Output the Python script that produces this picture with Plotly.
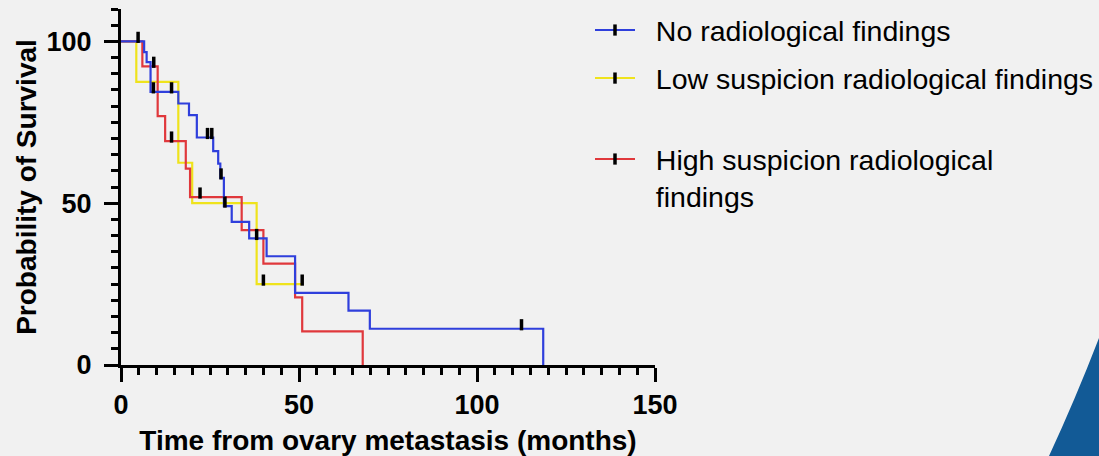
import plotly.graph_objects as go

# ---------------- data ----------------
# No radiological findings
time_no = [0, 6.5, 7.2, 8.3, 16.1, 19.1, 21.3, 25.9, 27.3, 27.9, 28.9, 31.1, 36.0, 40.9, 48.9, 63.9, 69.9, 118.6]
surv_no = [100, 96.7, 93.6, 84.4, 80.8, 77.2, 70.3, 66.1, 62.2, 57.8, 49.1, 44.2, 39.1, 33.6, 22.3, 16.8, 11.2, 0]
cens_time_no = [4.8, 9.1, 14.2, 24.3, 25.5, 28.1, 29.2, 38.1, 112.5]
cens_surv_no = [100, 84.4, 84.4, 70.3, 70.3, 57.8, 49.1, 39.1, 11.2]

# Low suspicion radiological findings
time_low = [0, 4.3, 16.1, 20.0, 38.1, 50.9]
surv_low = [100, 87.5, 62.5, 50.0, 25.0, 25.0]
cens_time_low = [40.0, 50.9]
cens_surv_low = [25.0, 25.0]

# High suspicion radiological findings
time_high = [0, 6.0, 10.3, 12.4, 18.2, 19.4, 33.9, 40.0, 48.9, 50.9, 67.9]
surv_high = [100, 92.3, 76.9, 69.2, 60.7, 51.9, 41.7, 31.3, 20.9, 10.4, 0]
cens_time_high = [9.2, 14.2, 22.2]
cens_surv_high = [92.3, 69.2, 51.9]

names = ["No radiological findings",
         "Low suspicion radiological findings",
         "High suspicion radiological<br>findings"]
colors = ["#2f3fdc", "#efe31c", "#e0383c"]

x_ticks = [0, 50, 100, 150]
y_ticks = [0, 50, 100]
x_range = [0, 150]
y_range = [0, 110]

# ---------------- figure ----------------
W, H = 1099, 456
L, R, T, B = 121, 444, 9, 91
plot_h = H - T - B
plot_w = W - L - R
lift = 4.0 * (y_range[1] - y_range[0]) / plot_h  # censor ticks sit on top of the line

BG = "#f1f1f1"
FONT = "Arial, Liberation Sans, Helvetica, sans-serif"
PAD = "\u00a0\u00a0"  # gap between legend symbol and text

fig = go.Figure()

# step curves (yellow, red, blue drawing order)
for t, s, c in [(time_low, surv_low, colors[1]),
                (time_high, surv_high, colors[2]),
                (time_no, surv_no, colors[0])]:
    fig.add_trace(go.Scatter(x=t, y=s, mode="lines",
                             line=dict(color=c, width=2.2, shape="hv"),
                             showlegend=False, hoverinfo="skip"))

# censor marks (also carry legend entries)
cens = [(cens_time_no, cens_surv_no, colors[0], names[0], "legend", "g1"),
        (cens_time_low, cens_surv_low, colors[1], names[1], "legend", "g2"),
        (cens_time_high, cens_surv_high, colors[2], names[2], "legend2", "g3")]
for ct, cs, c, nm, lg, grp in cens:
    xs, ys = [], []
    for a, b in zip(ct, cs):
        xs += [a, None]
        ys += [b + lift, None]
    label = "<br>".join(PAD + part for part in nm.split("<br>"))
    fig.add_trace(go.Scatter(x=xs, y=ys, mode="lines+markers", name=label,
                             legend=lg, legendgroup=grp,
                             line=dict(color=c, width=2),
                             marker=dict(symbol="line-ns", size=8,
                                         line=dict(color="black", width=3.5)),
                             connectgaps=False, hoverinfo="skip"))

axis_common = dict(showline=True, linecolor="black", linewidth=3,
                   ticks="outside", ticklen=14, tickwidth=3, tickcolor="black",
                   showgrid=False, zeroline=False,
                   tickfont=dict(family=FONT, size=27, color="black", weight="bold"),
                   minor=dict(dtick=5, ticks="outside", ticklen=7, tickwidth=3,
                              tickcolor="black", showgrid=False))

fig.update_xaxes(range=x_range, tickvals=x_ticks, ticklabelstandoff=0,
                 title=dict(text="Time from ovary metastasis (months)",
                            font=dict(family=FONT, size=28, color="black", weight="bold"),
                            standoff=12),
                 **axis_common)
fig.update_yaxes(range=y_range, tickvals=y_ticks, ticklabelstandoff=7,
                 title=dict(text="Probability of Survival",
                            font=dict(family=FONT, size=28, color="black", weight="bold"),
                            standoff=2),
                 **axis_common)

legend_common = dict(xref="container", yref="container", xanchor="left", yanchor="top",
                     bgcolor="rgba(0,0,0,0)", borderwidth=0, valign="top",
                     font=dict(family=FONT, size=28.5, color="black"),
                     itemwidth=40, tracegroupgap=8)

fig.update_layout(
    width=W, height=H,
    margin=dict(l=L, r=R, t=T, b=B, autoexpand=False),
    paper_bgcolor=BG, plot_bgcolor=BG,
    legend=dict(x=590 / W, y=1 - 5 / H, **legend_common),
    legend2=dict(x=590 / W, y=1 - 134 / H, **legend_common),
    shapes=[dict(type="path", xref="paper", yref="paper", layer="below",
                 path="M %f %f Q %f %f %f %f L %f %f Z" % (
                     (1099 - L) / plot_w, (H - B - 338) / plot_h,
                     (1075 - L) / plot_w, (H - B - 400) / plot_h,
                     (1049 - L) / plot_w, (H - B - 456) / plot_h,
                     (1099 - L) / plot_w, (H - B - 456) / plot_h),
                 fillcolor="#125a96", line=dict(width=0))],
)

fig.write_html("out.html", config={"displayModeBar": False},
               post_script="document.body.style.margin='0';document.body.style.background='%s';" % BG)
